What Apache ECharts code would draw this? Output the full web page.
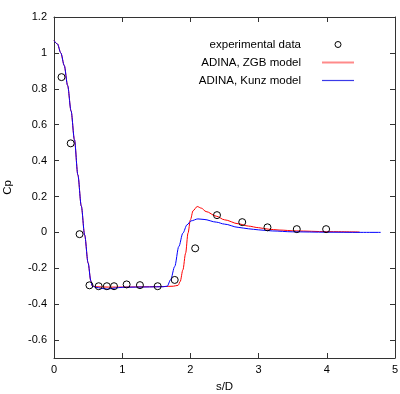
<!DOCTYPE html>
<html>
<head>
<meta charset="utf-8">
<script src="https://cdn.jsdelivr.net/npm/echarts@6/dist/echarts.min.js"></script>
<style>html,body{margin:0;padding:0;background:#fff;}#chart{width:400px;height:394px;}</style>
</head>
<body>
<div id="chart"></div>
<script>
// Experimental data
var expX = [0.11, 0.245, 0.375, 0.52, 0.655, 0.775, 0.88, 1.065, 1.26, 1.52, 1.77, 2.07, 2.39, 2.76, 3.13, 3.56, 3.99];
var expY = [0.865, 0.496, -0.01, -0.295, -0.3, -0.3, -0.3, -0.29, -0.294, -0.3, -0.265, -0.089, 0.096, 0.057, 0.028, 0.018, 0.018];

// ADINA, ZGB model (red)
var zgbX = [0, 0.05, 0.1, 0.15, 0.2, 0.25, 0.3, 0.35, 0.4, 0.45, 0.5, 0.54, 0.56, 0.6, 0.8, 1.0, 1.2, 1.4, 1.6, 1.75, 1.82, 1.85, 1.89, 1.93, 1.965, 2.0, 2.04, 2.1, 2.16, 2.23, 2.38, 2.5, 2.7, 2.85, 3.0, 3.14, 3.3, 3.55, 4.0, 4.48];
var zgbY = [1.068, 1.05, 1.0, 0.93, 0.818, 0.677, 0.516, 0.32, 0.147, -0.016, -0.17, -0.27, -0.298, -0.303, -0.305, -0.305, -0.304, -0.303, -0.302, -0.3, -0.295, -0.274, -0.209, -0.116, -0.004, 0.07, 0.121, 0.144, 0.135, 0.116, 0.09, 0.07, 0.048, 0.035, 0.026, 0.018, 0.013, 0.008, 0.004, 0.002];

// ADINA, Kunz model (blue)
var kunzX = [0, 0.05, 0.1, 0.15, 0.2, 0.25, 0.3, 0.35, 0.4, 0.45, 0.5, 0.54, 0.56, 0.6, 0.7, 0.78, 0.9, 1.0, 1.2, 1.4, 1.6, 1.66, 1.71, 1.77, 1.83, 1.89, 1.95, 2.01, 2.11, 2.2, 2.38, 2.5, 2.7, 2.85, 3.0, 3.2, 3.5, 4.0, 4.5, 4.79];
var kunzY = [1.068, 1.05, 1.0, 0.93, 0.818, 0.677, 0.516, 0.32, 0.147, -0.016, -0.17, -0.27, -0.298, -0.305, -0.312, -0.316, -0.31, -0.306, -0.305, -0.304, -0.303, -0.3, -0.264, -0.19, -0.079, -0.004, 0.042, 0.064, 0.075, 0.072, 0.057, 0.046, 0.028, 0.02, 0.014, 0.008, 0.003, 0.001, 0.0, 0.0];

// Tick labels
var xTicks = [0, 1, 2, 3, 4, 5];
var yTicks = [-0.6, -0.4, -0.2, 0, 0.2, 0.4, 0.6, 0.8, 1, 1.2];

var seriesNames = ['experimental data', 'ADINA, ZGB model', 'ADINA, Kunz model'];

function zip(a, b) { return a.map(function (v, i) { return [v, b[i]]; }); }

var FONT = 'Liberation Sans';
var frameColor = '#333';
var redIcon = 'path://M0,0L32,0L32,2L0,2Z';
var blueIcon = 'path://M0,0L32,0L32,1.2L0,1.2Z';

var chart = echarts.init(document.getElementById('chart'), null, { renderer: 'canvas' });
var option = {
  animation: false,
  backgroundColor: '#fff',
  grid: { left: 54, right: 5, top: 17, bottom: 36, containLabel: false, outerBoundsMode: 'none' },
  legend: {
    orient: 'vertical',
    align: 'right',
    right: 46,
    top: 37,
    padding: 0,
    itemGap: 3,
    itemWidth: 32,
    itemHeight: 6,
    selectedMode: false,
    textStyle: { fontFamily: FONT, fontSize: 11.5, color: '#000', padding: [0, 16, 0, 0], lineHeight: 15 },
    data: [
      { name: seriesNames[0], icon: 'circle', itemStyle: { color: 'rgba(0,0,0,0)', borderColor: '#000', borderWidth: 1 } },
      { name: seriesNames[1], icon: redIcon,
        itemStyle: { color: '#ff8a8a', borderColor: '#ff8a8a', borderWidth: 0 },
        lineStyle: { color: '#ff8a8a', width: 1 } },
      { name: seriesNames[2], icon: blueIcon,
        itemStyle: { color: '#3a3ae8', borderColor: '#3a3ae8', borderWidth: 0 },
        lineStyle: { color: '#3a3ae8', width: 1 } }
    ]
  },
  xAxis: [
    {
      type: 'value', position: 'bottom', min: 0, max: 5, interval: 1,
      name: 's/D', nameLocation: 'middle', nameGap: 23,
      nameTextStyle: { fontFamily: FONT, fontSize: 11.5, color: '#000' },
      axisLine: { show: true, onZero: false, lineStyle: { color: frameColor, width: 1 } },
      axisTick: { show: true, inside: true, length: 5, lineStyle: { color: frameColor } },
      axisLabel: { fontFamily: FONT, fontSize: 11, color: '#000', margin: 6,
        customValues: xTicks, formatter: function (v) { return String(v); } },
      splitLine: { show: false }
    },
    {
      type: 'value', position: 'top', min: 0, max: 5, interval: 1,
      axisLine: { show: true, onZero: false, lineStyle: { color: frameColor, width: 1 } },
      axisTick: { show: true, inside: true, length: 5, lineStyle: { color: frameColor } },
      axisLabel: { show: false },
      splitLine: { show: false }
    }
  ],
  yAxis: [
    {
      type: 'value', position: 'left', min: -0.7, max: 1.2,
      name: 'Cp', nameLocation: 'middle', nameGap: 40, nameRotate: 90,
      nameTextStyle: { fontFamily: FONT, fontSize: 11.5, color: '#000' },
      axisLine: { show: true, onZero: false, lineStyle: { color: frameColor, width: 1 } },
      axisTick: { show: true, inside: true, length: 5, lineStyle: { color: frameColor }, customValues: yTicks },
      axisLabel: { fontFamily: FONT, fontSize: 11, color: '#000', margin: 7, customValues: yTicks,
        formatter: function (v) { return String(Math.round(v * 10) / 10); } },
      splitLine: { show: false }
    },
    {
      type: 'value', position: 'right', min: -0.7, max: 1.2,
      axisLine: { show: true, onZero: false, lineStyle: { color: frameColor, width: 1 } },
      axisTick: { show: true, inside: true, length: 5, lineStyle: { color: frameColor }, customValues: yTicks },
      axisLabel: { show: false, customValues: yTicks },
      splitLine: { show: false }
    }
  ],
  series: [
    {
      name: seriesNames[1], type: 'line', xAxisIndex: 0, yAxisIndex: 0,
      data: zip(zgbX, zgbY), symbol: 'none', showSymbol: false,
      smooth: 0.3, smoothMonotone: 'x',
      lineStyle: { color: '#ff0000', width: 1 }, itemStyle: { color: '#ff0000' }, z: 2
    },
    {
      name: seriesNames[2], type: 'line', xAxisIndex: 0, yAxisIndex: 0,
      data: zip(kunzX, kunzY), symbol: 'none', showSymbol: false,
      smooth: 0.3, smoothMonotone: 'x',
      lineStyle: { color: '#0000ff', width: 1 }, itemStyle: { color: '#0000ff' }, z: 3
    },
    {
      name: seriesNames[0], type: 'scatter', xAxisIndex: 0, yAxisIndex: 0,
      data: zip(expX, expY), symbol: 'circle', symbolSize: 7,
      itemStyle: { color: 'rgba(0,0,0,0)', borderColor: '#000', borderWidth: 1, opacity: 1 }, z: 4
    }
  ]
};
chart.setOption(option);
</script>
</body>
</html>
